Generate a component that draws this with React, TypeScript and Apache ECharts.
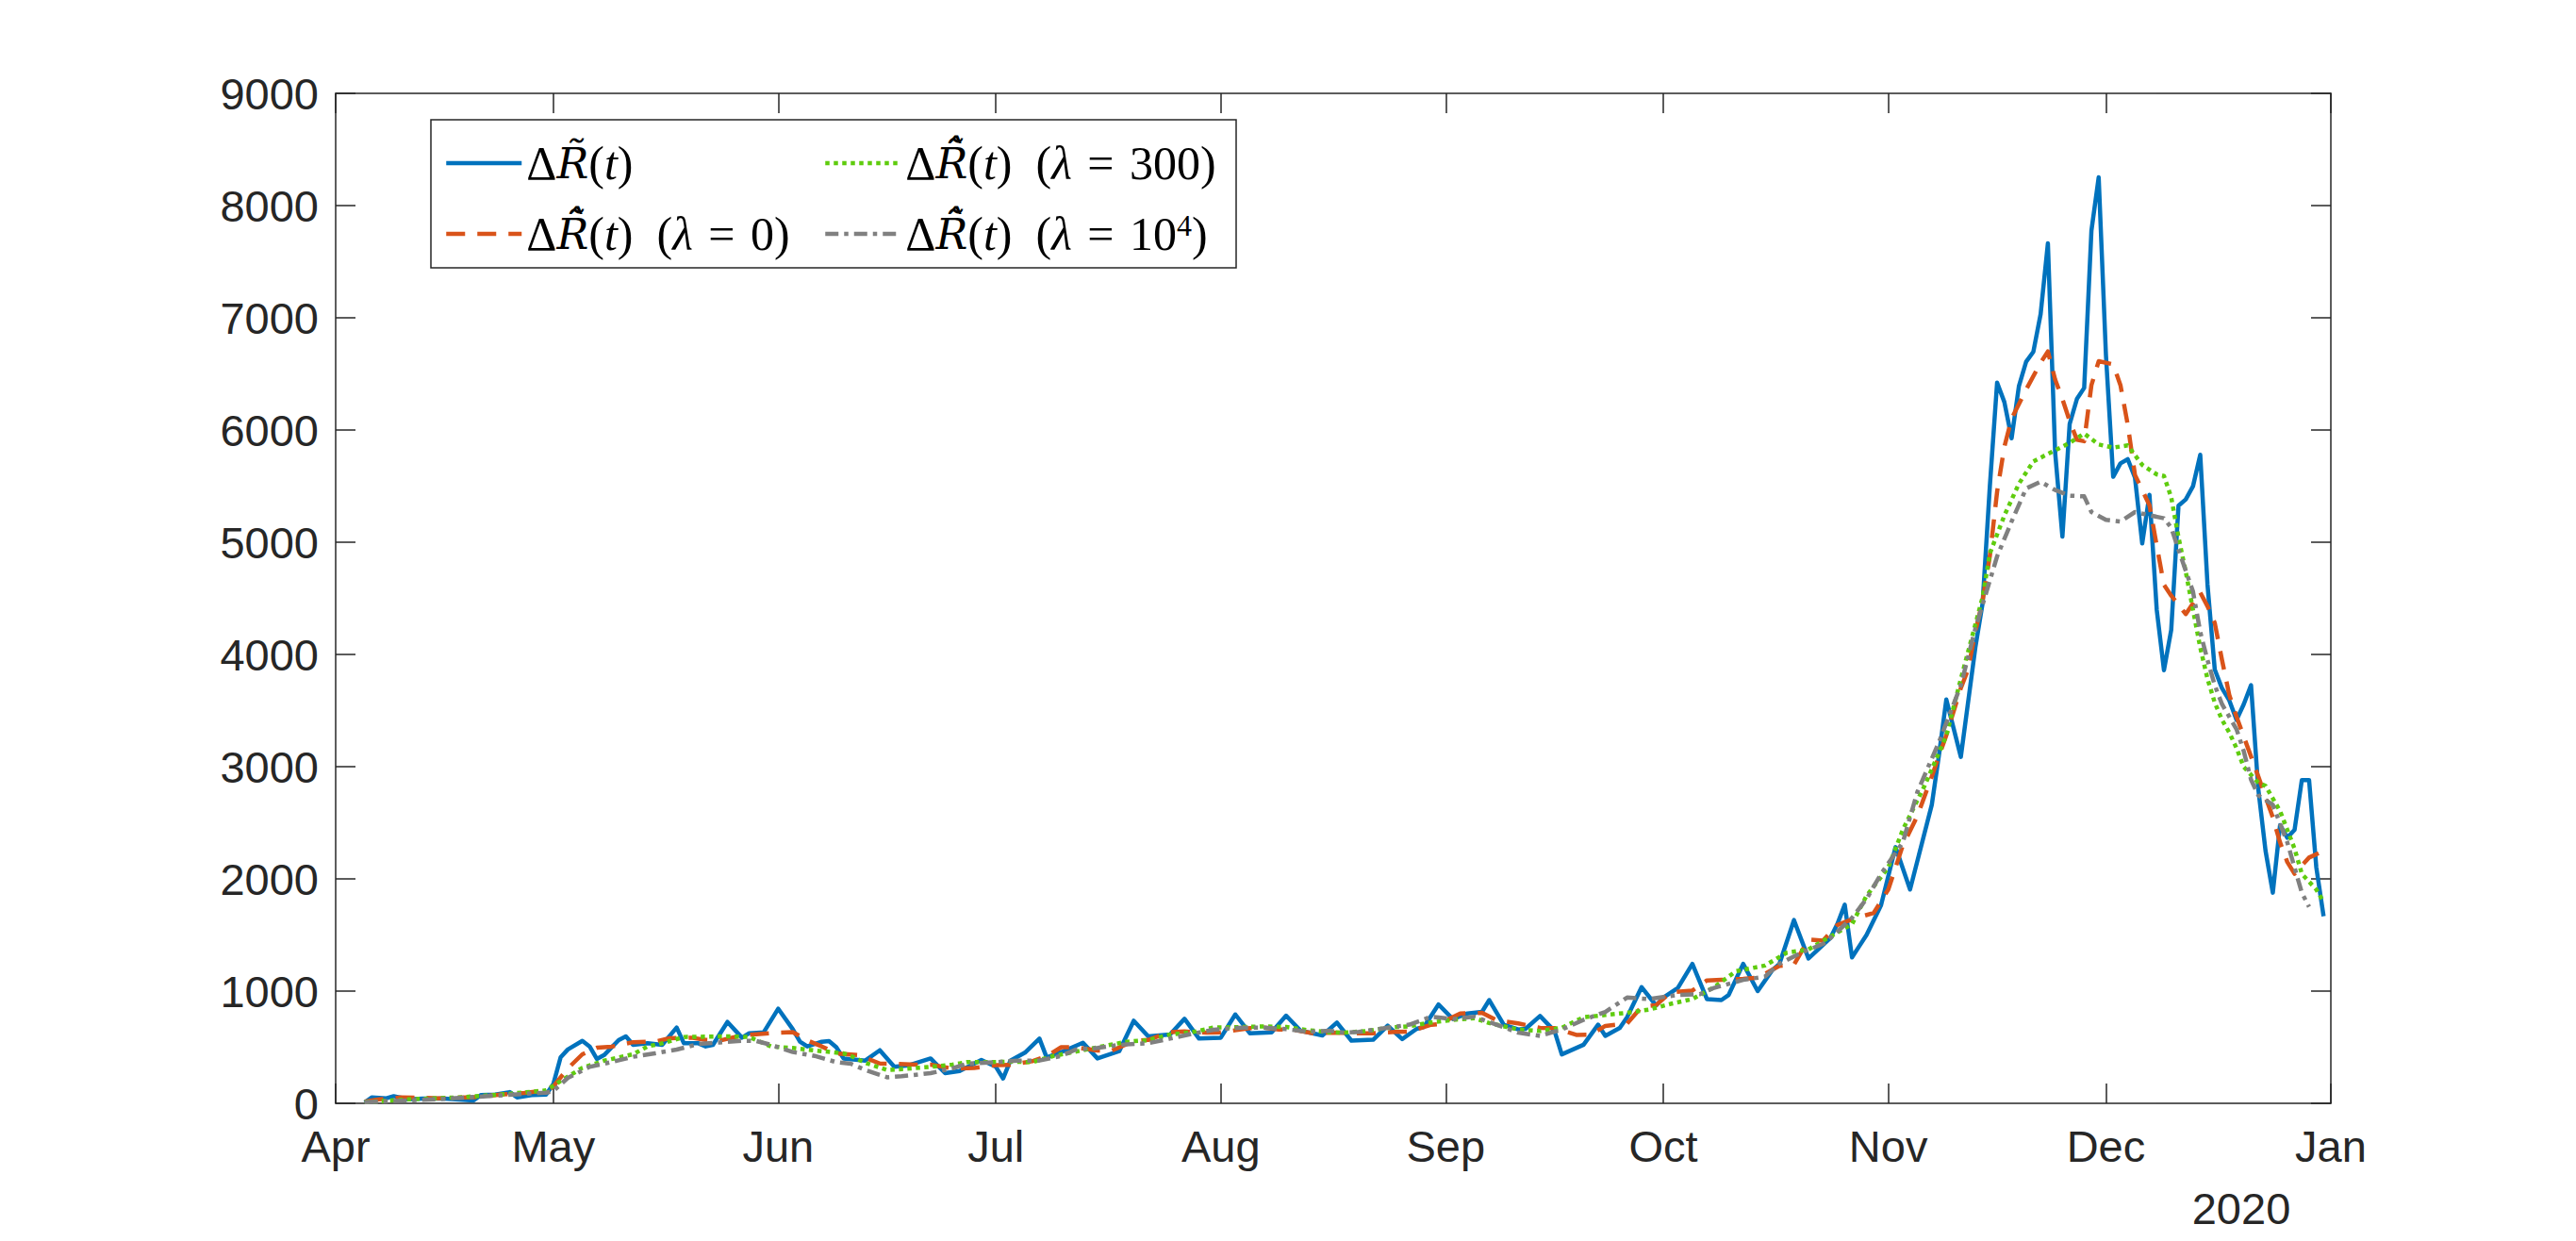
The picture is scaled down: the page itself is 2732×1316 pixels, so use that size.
import React, { useEffect, useRef } from "react";
import * as echarts from "echarts";

// x values are days counted from 1 April 2020 (day 0)
const monthTickDays = [0, 30, 61, 91, 122, 153, 183, 214, 244, 275];
const monthTickLabels = ["Apr", "May", "Jun", "Jul", "Aug", "Sep", "Oct", "Nov", "Dec", "Jan"];
const yearLabel = "2020";
const yMin = 0;
const yMax = 9000;
const yStep = 1000;

const seriesNames = [
  "ΔR̃(t)",
  "ΔR̂̃(t) (λ = 0)",
  "ΔR̂̃(t) (λ = 300)",
  "ΔR̂̃(t) (λ = 10⁴)",
];

const rTilde: number[][] = [
  [4, 8], [5, 53], [7, 45], [8, 64], [10, 36], [12, 42], [15, 42], [19, 25], [20, 73], [22, 78],
  [24, 100], [25, 53], [27, 73], [29, 78], [30, 171], [31, 409], [32, 480], [34, 557], [35, 507],
  [36, 395], [37, 430], [39, 563], [40, 597], [41, 521], [43, 535], [45, 521], [47, 675], [48, 535],
  [50, 535], [51, 507], [52, 521], [54, 725], [56, 585], [57, 625], [59, 633], [61, 843], [63, 661],
  [64, 549], [65, 507], [67, 549], [68, 555], [69, 500], [70, 400], [73, 381], [75, 473], [77, 325],
  [79, 339], [82, 400], [84, 269], [86, 288], [89, 386], [91, 325], [92, 221], [93, 381], [95, 451],
  [97, 577], [98, 409], [100, 456], [103, 540], [105, 400], [108, 465], [110, 736], [112, 596],
  [115, 613], [117, 753], [119, 577], [122, 585], [124, 792], [126, 624], [129, 633], [131, 781],
  [133, 647], [136, 605], [138, 720], [140, 559], [143, 567], [145, 693], [147, 573], [149, 664],
  [150, 681], [152, 881], [154, 750], [156, 801], [158, 815], [159, 920], [161, 701], [163, 658],
  [164, 664], [166, 778], [168, 644], [169, 436], [172, 522], [174, 701], [175, 601], [177, 673],
  [178, 767], [180, 1035], [182, 872], [183, 943], [185, 1029], [187, 1243], [189, 929], [191, 920],
  [192, 966], [194, 1243], [196, 1000], [198, 1186], [199, 1243], [201, 1633], [203, 1291],
  [206, 1471], [207, 1600], [208, 1770], [209, 1300], [210, 1400], [211, 1500], [213, 1765],
  [215, 2283], [217, 1905], [220, 2661], [221, 3109], [222, 3599], [224, 3087], [226, 4061],
  [227, 4454], [228, 5500], [229, 6423], [230, 6249], [231, 5927], [232, 6389], [233, 6608],
  [234, 6698], [235, 7034], [236, 7664], [237, 5800], [238, 5050], [239, 6053], [240, 6277],
  [241, 6375], [242, 7776], [243, 8252], [244, 6670], [245, 5583], [246, 5703], [247, 5740],
  [248, 5577], [249, 4989], [250, 5423], [251, 4400], [252, 3860], [253, 4220], [254, 5325],
  [255, 5381], [256, 5499], [257, 5779], [258, 4622], [259, 3866], [260, 3698], [261, 3591],
  [262, 3417], [263, 3557], [264, 3726], [265, 2800], [266, 2250], [267, 1877], [268, 2479],
  [269, 2367], [270, 2437], [271, 2880], [272, 2880], [273, 2101], [274, 1667],
];

const rHatLambda0: number[][] = [
  [4, 15], [6, 35], [9, 53], [14, 45], [19, 55], [23, 80], [26, 92], [29, 115], [30, 150], [32, 311],
  [34, 437], [36, 495], [38, 505], [41, 545], [44, 550], [46, 580], [49, 585], [51, 565], [53, 560],
  [56, 605], [58, 615], [61, 630], [63, 635], [65, 560], [67, 507], [69, 445], [72, 430], [75, 355],
  [77, 352], [80, 345], [82, 345], [85, 310], [88, 315], [91, 340], [93, 342], [96, 375], [98, 420],
  [100, 500], [102, 500], [105, 470], [107, 470], [110, 555], [112, 565], [115, 635], [117, 640],
  [120, 630], [122, 632], [126, 670], [128, 675], [130, 658], [132, 655], [135, 622], [137, 630],
  [139, 628], [141, 624], [143, 624], [146, 636], [148, 640], [151, 700], [152, 705], [155, 800],
  [158, 807], [160, 740], [163, 712], [166, 672], [168, 670], [171, 610], [173, 612], [175, 690],
  [178, 710], [180, 860], [182, 875], [184, 990], [187, 1005], [189, 1095], [191, 1100], [194, 1110],
  [196, 1120], [199, 1225], [201, 1235], [203, 1460], [205, 1450], [207, 1590], [209, 1640],
  [212, 1697], [214, 1905], [216, 2297], [218, 2560], [220, 2913], [222, 3280], [224, 3700],
  [225, 3865], [226, 4201], [227, 4480], [228, 4877], [229, 5450], [230, 5850], [231, 6100],
  [233, 6361], [235, 6600], [236, 6700], [237, 6450], [238, 6277], [239, 6081], [240, 5913],
  [241, 5900], [242, 6400], [243, 6613], [245, 6585], [246, 6400], [247, 6050], [248, 5600],
  [249, 5465], [250, 5330], [251, 4970], [252, 4620], [253, 4524], [255, 4360], [257, 4552],
  [258, 4430], [259, 4280], [260, 3950], [261, 3640], [262, 3445], [264, 3090], [265, 2913],
  [266, 2730], [267, 2549], [268, 2325], [269, 2150], [270, 2045], [271, 2120], [272, 2190],
  [274, 2250],
];

const rHatLambda300: number[][] = [
  [4, 10], [10, 35], [17, 53], [23, 80], [29, 115], [31, 199], [34, 316], [37, 380], [41, 437],
  [43, 507], [45, 535], [48, 591], [54, 597], [57, 591], [60, 507], [63, 493], [67, 465], [70, 445],
  [71, 423], [73, 361], [76, 297], [78, 305], [82, 325], [85, 344], [87, 367], [90, 367], [93, 372],
  [96, 367], [99, 423], [103, 473], [106, 512], [109, 549], [112, 563], [115, 613], [118, 633],
  [121, 675], [125, 680], [128, 686], [131, 680], [134, 652], [137, 633], [139, 630], [142, 644],
  [145, 673], [148, 687], [151, 721], [154, 744], [157, 758], [159, 715], [163, 658], [166, 644],
  [169, 673], [172, 767], [175, 787], [178, 807], [181, 835], [184, 886], [187, 929], [190, 1035],
  [193, 1177], [197, 1228], [200, 1342], [203, 1371], [206, 1485], [209, 1597], [211, 1849],
  [214, 2101], [216, 2437], [219, 2829], [222, 3277], [224, 3781], [227, 4510], [228, 4900],
  [230, 5238], [232, 5521], [234, 5720], [236, 5787], [239, 5885], [241, 5969], [243, 5871],
  [245, 5843], [247, 5863], [249, 5689], [251, 5605], [252, 5591], [253, 5400], [254, 5045],
  [255, 4737], [256, 4398], [257, 4062], [258, 3782], [259, 3571], [260, 3417], [261, 3305],
  [262, 3165], [263, 2997], [265, 2857], [266, 2829], [268, 2605], [269, 2437], [270, 2269],
  [271, 2045], [273, 1905], [274, 1793],
];

const rHatLambda1e4: number[][] = [
  [4, 10], [15, 40], [25, 80], [29, 95], [30, 110], [32, 227], [35, 325], [38, 367], [41, 415],
  [44, 445], [47, 479], [50, 529], [53, 543], [56, 557], [58, 555], [60, 521], [63, 457], [66, 423],
  [69, 367], [71, 353], [73, 297], [76, 232], [78, 241], [82, 269], [85, 311], [87, 353], [91, 367],
  [94, 381], [97, 381], [100, 423], [102, 479], [105, 493], [108, 521], [112, 535], [115, 577],
  [118, 619], [121, 655], [125, 675], [128, 675], [131, 661], [134, 638], [137, 647], [139, 630],
  [141, 636], [144, 664], [148, 701], [151, 772], [154, 750], [157, 772], [160, 701], [163, 630],
  [166, 601], [169, 658], [172, 744], [175, 815], [178, 943], [181, 929], [185, 966], [188, 972],
  [190, 1029], [194, 1100], [197, 1129], [199, 1243], [202, 1342], [205, 1420], [206, 1470],
  [209, 1653], [211, 1821], [213, 2045], [216, 2325], [218, 2773], [221, 3221], [224, 3725],
  [226, 4229], [229, 4874], [231, 5185], [233, 5479], [235, 5540], [237, 5465], [239, 5415],
  [241, 5409], [242, 5269], [244, 5199], [246, 5185], [248, 5269], [250, 5241], [252, 5213],
  [253, 5129], [254, 4933], [256, 4560], [257, 4200], [258, 3950], [259, 3726], [260, 3557],
  [262, 3333], [263, 3137], [264, 2885], [265, 2745], [267, 2661], [268, 2493], [269, 2325],
  [270, 2101], [271, 1877], [272, 1751],
];

const seriesData = [rTilde, rHatLambda0, rHatLambda300, rHatLambda1e4];
const seriesColors = ["#0072BD", "#D95319", "#5FCC0E", "#808080"];
const seriesDash: any[] = ["solid", [20, 13], [4.5, 4.5], [14, 6, 4.5, 6]];

const legendRich: Record<string, string> = {
  [seriesNames[0]]: "Δ{acc|R\u0303}({it|t})",
  [seriesNames[1]]: "Δ{acc|R\u0303\u0302}({it|t})  ({it|λ} {sp|=} 0)",
  [seriesNames[2]]: "Δ{acc|R\u0303\u0302}({it|t})  ({it|λ} {sp|=} 300)",
  [seriesNames[3]]: "Δ{acc|R\u0303\u0302}({it|t})  ({it|λ} {sp|=} 10{sup|4})",
};

const AXIS_COLOR = "#262626";
const SANS = "'Liberation Sans', Arial, Helvetica, sans-serif";
const SERIF = "'Liberation Serif', 'DejaVu Serif', serif";
const ACC_SERIF = "'DejaVu Serif', serif";

export default function App() {
  const ref = useRef<HTMLDivElement>(null);

  useEffect(() => {
    document.body.style.margin = "0";
    document.body.style.overflow = "hidden";
    if (!ref.current) return;
    const chart = echarts.init(ref.current, undefined, { renderer: "svg" });

    const monthFormatter = (v: number) => {
      const i = monthTickDays.indexOf(Math.round(v));
      return i >= 0 ? monthTickLabels[i] : "";
    };

    const FS = 50;
    const legendText = {
      fontFamily: SERIF,
      fontSize: FS,
      lineHeight: 50,
      color: "#000",
      rich: {
        it: { fontFamily: SERIF, fontSize: FS, lineHeight: 50, fontStyle: "italic", color: "#000" },
        acc: { fontFamily: ACC_SERIF, fontSize: 45, lineHeight: 50, fontStyle: "italic", color: "#000" },
        sp: { fontFamily: SERIF, fontSize: FS, lineHeight: 50, color: "#000", padding: [0, 4, 0, 4] },
        sup: { fontFamily: SERIF, fontSize: 32, lineHeight: 50, color: "#000", verticalAlign: "top", padding: [0, 0, 20, 0] },
      },
    };

    const legendBase = {
      orient: "vertical",
      top: 143,
      itemWidth: 80,
      itemHeight: 50,
      itemGap: 25,
      selectedMode: false,
      lineStyle: { width: 4.5 },
      itemStyle: { color: "rgba(0,0,0,0)", borderWidth: 0, opacity: 0 },
      textStyle: legendText,
      formatter: (name: string) => legendRich[name] || name,
    };

    const option: any = {
      animation: false,
      backgroundColor: "#ffffff",
      grid: { left: 356, top: 99, right: 260, bottom: 146 },
      xAxis: [
        {
          type: "value",
          position: "bottom",
          min: 0,
          max: 275,
          axisLine: { show: true, onZero: false, lineStyle: { color: AXIS_COLOR, width: 1.5 } },
          axisTick: { show: true, inside: true, length: 21, customValues: monthTickDays, lineStyle: { color: AXIS_COLOR, width: 1.5 } },
          axisLabel: {
            show: true,
            customValues: monthTickDays,
            formatter: monthFormatter,
            color: AXIS_COLOR,
            fontFamily: SANS,
            fontSize: 47,
            lineHeight: 38,
            margin: 26,
          },
          splitLine: { show: false },
        },
        {
          type: "value",
          position: "top",
          min: 0,
          max: 275,
          axisLine: { show: true, onZero: false, lineStyle: { color: AXIS_COLOR, width: 1.5 } },
          axisTick: { show: true, inside: true, length: 21, customValues: monthTickDays, lineStyle: { color: AXIS_COLOR, width: 1.5 } },
          axisLabel: { show: false },
          splitLine: { show: false },
        },
      ],
      yAxis: [
        {
          type: "value",
          position: "left",
          min: yMin,
          max: yMax,
          interval: yStep,
          axisLine: { show: true, onZero: false, lineStyle: { color: AXIS_COLOR, width: 1.5 } },
          axisTick: { show: true, inside: true, length: 21, lineStyle: { color: AXIS_COLOR, width: 1.5 } },
          axisLabel: {
            show: true,
            color: AXIS_COLOR,
            fontFamily: SANS,
            fontSize: 47,
            lineHeight: 36,
            margin: 18,
            formatter: (v: number) => String(v),
          },
          splitLine: { show: false },
        },
        {
          type: "value",
          position: "right",
          min: yMin,
          max: yMax,
          interval: yStep,
          axisLine: { show: true, onZero: false, lineStyle: { color: AXIS_COLOR, width: 1.5 } },
          axisTick: { show: true, inside: true, length: 21, lineStyle: { color: AXIS_COLOR, width: 1.5 } },
          axisLabel: { show: false },
          splitLine: { show: false },
        },
      ],
      legend: [
        { ...legendBase, left: 466, data: [seriesNames[0], seriesNames[1]] },
        { ...legendBase, left: 868, data: [seriesNames[2], seriesNames[3]] },
      ],
      graphic: [
        {
          type: "rect",
          z: 0,
          shape: { x: 457, y: 127, width: 854, height: 157 },
          style: { fill: "#ffffff", stroke: AXIS_COLOR, lineWidth: 1.5 },
        },
        {
          type: "text",
          x: 2377,
          y: 1281,
          style: {
            text: yearLabel,
            fontFamily: SANS,
            fontSize: 47,
            fill: AXIS_COLOR,
            align: "center",
            verticalAlign: "middle",
          },
        },
      ],
      series: seriesData.map((d, i) => ({
        name: seriesNames[i],
        type: "line",
        xAxisIndex: 0,
        yAxisIndex: 0,
        data: d,
        symbol: "none",
        showSymbol: false,
        smooth: false,
        lineStyle: {
          color: seriesColors[i],
          width: 4.5,
          type: seriesDash[i],
          cap: "butt",
          join: "round",
        },
        itemStyle: { color: seriesColors[i] },
        emphasis: { disabled: true },
        z: 2 + i,
      })),
    };

    chart.setOption(option);
    return () => chart.dispose();
  }, []);

  return <div ref={ref} style={{ width: 2732, height: 1316, background: "#fff" }} />;
}
